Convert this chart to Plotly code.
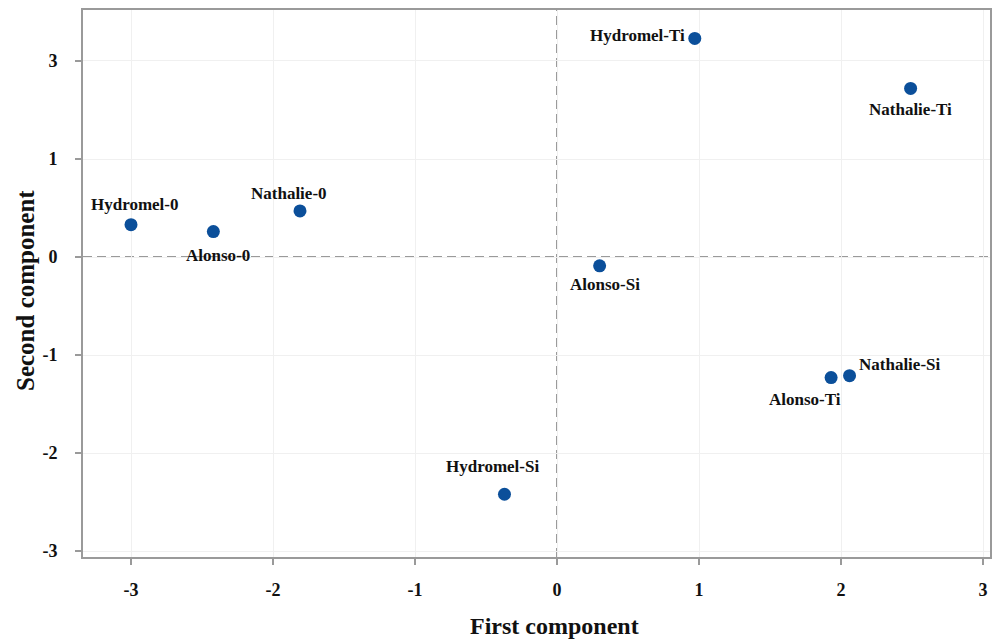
import plotly.graph_objects as go

samples = ["Hydromel-0", "Alonso-0", "Nathalie-0", "Hydromel-Ti", "Nathalie-Ti",
           "Alonso-Si", "Alonso-Ti", "Nathalie-Si", "Hydromel-Si"]
first_comp = [-3.00, -2.42, -1.81, 0.97, 2.49, 0.30, 1.93, 2.06, -0.37]
second_comp = [0.33, 0.26, 0.47, 2.23, 1.72, -0.09, -1.23, -1.21, -2.42]

x_ticks = [-3, -2, -1, 0, 1, 2, 3]
y_tickvals = [2, 1, 0, -1, -2, -3]
y_ticktext = ["3", "1", "0", "-1", "-2", "-3"]

# label offsets in pixels (style only)
label_shift = {
    "Hydromel-0": (4, 20), "Alonso-0": (5, -24), "Nathalie-0": (-11, 17),
    "Hydromel-Ti": (-57, 3), "Nathalie-Ti": (0, -21), "Alonso-Si": (5, -19),
    "Alonso-Ti": (-26, -22), "Nathalie-Si": (50, 11), "Hydromel-Si": (-12, 28),
}

FONT = "Liberation Serif"
GRAY = "#9a9a9a"

fig = go.Figure()
fig.add_trace(go.Scatter(
    x=first_comp, y=second_comp, mode="markers",
    marker=dict(color="#0b4f9a", size=13),
    hoverinfo="text", text=samples, showlegend=False,
))

for name, xv, yv in zip(samples, first_comp, second_comp):
    dx, dy = label_shift[name]
    fig.add_annotation(x=xv, y=yv, text=f"<b>{name}</b>", showarrow=False,
                       xshift=dx, yshift=dy, xanchor="center", yanchor="middle",
                       font=dict(family=FONT, size=17, color="#111"))

fig.add_shape(type="line", xref="x", yref="paper", x0=0, x1=0, y0=0, y1=1,
              line=dict(color=GRAY, width=2, dash="9px,5px"), layer="below")
fig.add_shape(type="line", xref="paper", yref="y", x0=0, x1=1, y0=0, y1=0,
              line=dict(color=GRAY, width=2, dash="9px,5px"), layer="below")

# axis titles placed as annotations for precise placement
fig.add_annotation(xref="paper", yref="paper", x=0.52, y=-0.126,
                   xanchor="center", yanchor="middle",
                   text="<b>First component</b>", showarrow=False,
                   font=dict(family=FONT, size=24, color="#111"))
fig.add_annotation(xref="paper", yref="paper", x=-0.064, y=0.488,
                   xanchor="center", yanchor="middle",
                   text="<b>Second component</b>", showarrow=False, textangle=-90,
                   font=dict(family=FONT, size=25, color="#111"))

fig.update_layout(
    width=992, height=639,
    margin=dict(l=83, r=2, t=10, b=82),
    paper_bgcolor="white", plot_bgcolor="white",
    font=dict(family=FONT, color="#111"),
    xaxis=dict(
        range=[-3.338, 3.049], tickvals=x_ticks,
        ticktext=[f"<b>{v}</b>" for v in x_ticks],
        tickfont=dict(family=FONT, size=18, color="#111"),
        showgrid=True, gridcolor="#f0f0f0", gridwidth=1, zeroline=False,
        showline=True, linecolor=GRAY, linewidth=2, mirror=True,
        ticks="outside", ticklen=6, tickcolor=GRAY, tickwidth=2,
        ticklabelstandoff=9, automargin=False, ticklabeloverflow="allow",
    ),
    yaxis=dict(
        range=[-3.06, 2.52], tickvals=y_tickvals,
        ticktext=[f"<b>{t}</b>" for t in y_ticktext],
        tickfont=dict(family=FONT, size=18, color="#111"),
        showgrid=True, gridcolor="#f0f0f0", gridwidth=1, zeroline=False,
        showline=True, linecolor=GRAY, linewidth=2, mirror=True,
        ticks="outside", ticklen=6, tickcolor=GRAY, tickwidth=2,
        ticklabelstandoff=14, automargin=False, ticklabeloverflow="allow",
    ),
)

fig.write_html("out.html", config={"displayModeBar": False},
               post_script="document.body.style.margin='0px';"
                           "document.body.style.overflow='hidden';")
